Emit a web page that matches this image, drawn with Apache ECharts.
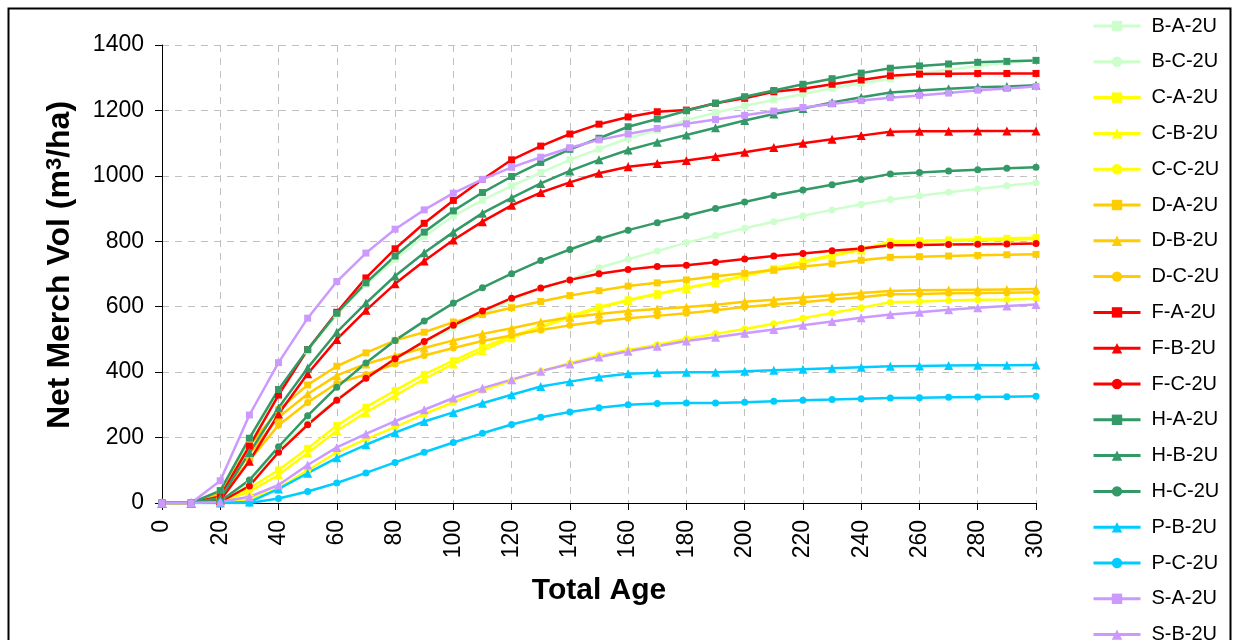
<!DOCTYPE html>
<html>
<head>
<meta charset="utf-8">
<script src="https://cdn.jsdelivr.net/npm/echarts@6/dist/echarts.min.js"></script>
<style>
html,body{margin:0;padding:0;background:#fff;}
#c{width:1233px;height:640px;}
</style>
</head>
<body>
<div id="c"></div>
<script>
const ages = [0,10,20,30,40,50,60,70,80,90,100,110,120,130,140,150,160,170,180,190,200,210,220,230,240,250,260,270,280,290,300];
const seriesNames = ['B-A-2U','B-C-2U','C-A-2U','C-B-2U','C-C-2U','D-A-2U','D-B-2U','D-C-2U','F-A-2U','F-B-2U','F-C-2U','H-A-2U','H-B-2U','H-C-2U','P-B-2U','P-C-2U','S-A-2U','S-B-2U'];
const BA = [0,0,35,190,345,465,575,668,745,815,877,926,969,1010,1049,1082,1115,1140,1171,1193,1214,1232,1250,1268,1283,1296,1313,1324,1336,1346,1353];
const BC = [0,0,5,60,165,245,318,383,440,490,535,578,621,655,682,719,745,770,796,818,840,860,878,896,913,928,939,950,960,970,979];
const CA = [0,0,5,45,101,167,237,293,344,393,435,476,509,540,572,599,621,640,658,675,696,717,738,758,776,799,802,804,806,809,811];
const CB = [0,0,3,35,86,153,221,277,328,379,425,466,505,536,568,596,619,638,656,673,694,714,735,755,773,796,799,801,803,805,807];
const CC = [0,0,2,11,45,100,155,195,232,272,308,344,374,403,427,451,468,484,502,517,532,548,565,581,597,614,616,619,621,622,624];
const DA = [0,0,30,175,285,361,418,459,497,522,553,576,597,616,634,649,663,673,682,693,702,712,723,731,742,751,753,755,757,759,760];
const DB = [0,0,25,150,262,333,390,425,451,474,497,517,534,553,568,578,587,593,599,606,615,621,628,635,642,648,650,651,652,653,654];
const DC = [0,0,20,130,238,307,366,393,425,451,474,495,512,529,543,555,565,572,580,589,599,607,614,622,629,638,639,641,642,643,644];
const FA = [0,0,20,174,330,469,583,688,777,855,925,989,1049,1091,1128,1158,1180,1196,1201,1222,1237,1257,1266,1280,1293,1306,1311,1312,1313,1313,1313];
const FB = [0,0,8,128,272,395,500,589,670,740,804,860,910,949,980,1008,1028,1038,1047,1059,1072,1087,1100,1112,1123,1135,1136,1136,1137,1137,1137];
const FC = [0,0,3,52,155,239,314,381,441,494,543,587,626,657,682,701,714,723,727,736,746,755,763,771,778,788,789,790,791,792,793];
const HA = [0,0,38,198,347,469,580,673,755,828,893,949,998,1041,1081,1115,1150,1174,1199,1222,1242,1261,1280,1297,1314,1329,1336,1342,1347,1350,1353];
const HB = [0,0,15,154,291,413,522,611,694,765,828,886,933,977,1015,1049,1079,1103,1125,1147,1169,1189,1206,1224,1240,1255,1261,1266,1271,1273,1277];
const HC = [0,0,5,70,172,267,354,428,497,556,611,658,701,741,775,807,834,857,878,900,920,940,957,973,989,1006,1010,1015,1019,1023,1026];
const PB = [0,0,0,3,43,91,138,178,215,249,277,305,331,356,371,385,395,398,400,400,403,406,409,412,415,418,419,420,421,421,422];
const PC = [0,0,0,0,14,35,61,92,124,155,185,213,240,262,278,291,300,304,306,306,308,311,314,316,319,321,322,323,324,325,326];
const SA = [0,0,68,269,429,565,677,764,837,896,947,989,1026,1057,1086,1110,1128,1145,1159,1172,1185,1198,1209,1220,1230,1239,1246,1253,1262,1267,1273];
const SB = [0,0,3,19,55,116,170,211,250,285,321,351,377,403,425,446,464,479,495,507,519,530,543,555,566,576,583,591,597,602,607];

const values = [BA,BC,CA,CB,CC,DA,DB,DC,FA,FB,FC,HA,HB,HC,PB,PC,SA,SB];
const colors = ['#ccffcc','#ccffcc','#ffff00','#ffff00','#ffff00','#ffcc00','#ffcc00','#ffcc00','#ff0000','#ff0000','#ff0000','#339966','#339966','#339966','#00ccff','#00ccff','#cc99ff','#cc99ff'];
const symbols = ['rect','circle','rect','triangle','circle','rect','triangle','circle','rect','triangle','circle','rect','triangle','circle','triangle','circle','rect','triangle'];

const FONT = '"Liberation Sans", Arial, sans-serif';
const series = seriesNames.map((n,i)=>({
  name:n, type:'line',
  data: ages.map((a,j)=>[a, values[i][j]]),
  symbol: symbols[i],
  symbolSize: symbols[i]==='triangle' ? 9 : 7,
  showAllSymbol: true,
  lineStyle:{color:colors[i], width:2.5},
  itemStyle:{color:colors[i]},
  emphasis:{disabled:true},
  animation:false
}));

const chart = echarts.init(document.getElementById('c'), null, {renderer:'canvas'});
chart.setOption({
  backgroundColor:'#ffffff',
  animation:false,
  textStyle:{fontFamily:FONT},
  grid:{left:162, top:45, width:874, height:458, outerBoundsMode:'none', containLabel:false},
  xAxis:{
    type:'value', min:0, max:300, interval:20,
    name:'Total Age', nameLocation:'middle', nameGap:73,
    nameTextStyle:{fontFamily:FONT, fontSize:30, fontWeight:'bold', color:'#000'},
    axisLine:{show:true, onZero:false, lineStyle:{color:'#000', width:1}},
    axisTick:{show:true, inside:false, length:7, lineStyle:{color:'#000'}},
    axisLabel:{rotate:90, fontSize:23, color:'#000', fontFamily:FONT, margin:17, formatter:v=>String(v)},
    splitLine:{show:true, lineStyle:{color:'#c0c0c0', type:[7,6], width:1}}
  },
  yAxis:{
    type:'value', min:0, max:1400, interval:200,
    name:'Net Merch Vol (m{sup|3}/ha)', nameLocation:'middle', nameGap:86,
    nameTextStyle:{fontFamily:FONT, fontSize:32, fontWeight:'bold', color:'#000', padding:[0,0,0,18],
      rich:{sup:{fontFamily:FONT, fontSize:22, fontWeight:'bold', color:'#000', verticalAlign:'top', padding:[0,0,10,0]}}},
    axisLine:{show:true, onZero:false, lineStyle:{color:'#000', width:1}},
    axisTick:{show:true, inside:false, length:7, lineStyle:{color:'#000'}},
    axisLabel:{fontSize:23, color:'#000', fontFamily:FONT, margin:18, formatter:v=>String(v)},
    splitLine:{show:true, lineStyle:{color:'#c0c0c0', type:[7,6], width:1}}
  },
  legend:{
    orient:'vertical', left:1092, top:16, height:1200, padding:0,
    itemWidth:47, itemHeight:13, itemGap:15.8,
    lineStyle:{width:3},
    textStyle:{fontFamily:FONT, fontSize:20, color:'#000', lineHeight:20, padding:[0,0,0,6]},
    data:seriesNames,
    selectedMode:false
  },
  graphic:[{
    type:'rect', left:6, top:6, silent:true,
    shape:{x:0, y:0, width:1222, height:700},
    style:{fill:'none', stroke:'#000', lineWidth:2}
  }],
  series:series
});
</script>
</body>
</html>
